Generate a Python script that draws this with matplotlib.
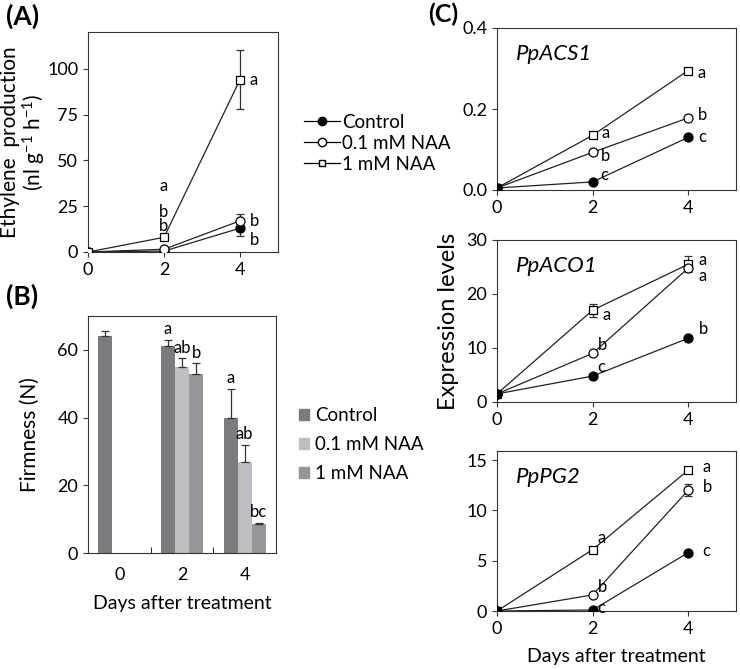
import matplotlib
matplotlib.use("Agg")
import matplotlib.pyplot as plt
from matplotlib.patches import Patch
from matplotlib.lines import Line2D

plt.rcParams['font.family'] = ['Lato', 'DejaVu Sans']
plt.rcParams['font.size'] = 12
plt.rcParams['axes.linewidth'] = 0.8
plt.rcParams['mathtext.default'] = 'regular'

days = [0, 2, 4]
treatments = ['Control', '0.1 mM NAA', '1 mM NAA']

# (A) ethylene production
eth_ctrl = [0, 0.5, 13]
eth_ctrl_err = [0, 0.3, 4]
eth_01 = [0, 1.5, 17]
eth_01_err = [0, 0.5, 4]
eth_1 = [0, 8, 94]
eth_1_err = [0, 1, 16]

# (B) firmness
firm_days = ['0', '2', '4']
firm_ctrl = [64, 61, 40]
firm_ctrl_err = [1.5, 2, 8.5]
firm_01 = [None, 55, 27]
firm_01_err = [None, 2.5, 5]
firm_1 = [None, 53, 8.5]
firm_1_err = [None, 3, 0.5]
firm_letters = [['', 'a', 'a'], ['', 'ab', 'ab'], ['', 'b', 'bc']]

# (C) expression levels
genes = ['PpACS1', 'PpACO1', 'PpPG2']
acs_ctrl = [0.005, 0.02, 0.13]
acs_01 = [0.005, 0.093, 0.178]
acs_1 = [0.005, 0.135, 0.295]
aco_ctrl = [1.5, 4.8, 11.8]
aco_01 = [1.5, 9.0, 24.8]
aco_1 = [1.5, 17.0, 25.5]
aco_1_err = [0.3, 1.2, 1.5]
pg_ctrl = [0.0, 0.1, 5.8]
pg_01 = [0.0, 1.6, 12.0]
pg_01_err = [0, 0.2, 0.6]
pg_1 = [0.0, 6.1, 14.0]

bar_colors = ['#7a7b7f', '#bdbec1', '#95969a']

W, H = 740, 669
fig = plt.figure(figsize=(W / 100, H / 100), dpi=100)


def box(x0, y0, x1, y1):
    return fig.add_axes([x0 / W, 1 - y1 / H, (x1 - x0) / W, (y1 - y0) / H])


def style_line(ax, x, y, marker, face, err=None):
    if err is not None:
        ax.errorbar(x, y, yerr=err, fmt='none', ecolor='#333333', elinewidth=0.9,
                    capsize=3, capthick=0.9, zorder=2)
    ax.plot(x, y, color='#222222', lw=0.9, marker=marker, ms=6.5 if marker == 'o' else 6,
            mfc=face, mec='black', mew=0.9, zorder=3)


# ---- (A)
axA = box(88, 32, 278, 252)
style_line(axA, days, eth_ctrl, 'o', 'black', eth_ctrl_err)
style_line(axA, days, eth_01, 'o', 'white', eth_01_err)
style_line(axA, days, eth_1, 's', 'white', eth_1_err)
axA.set_xlim(0, 5)
axA.set_ylim(0, 120)
axA.set_xticks(days)
axA.set_yticks([0, 25, 50, 75, 100])
axA.set_ylabel('Ethylene  production\n(nl g$^{-1}$ h$^{-1}$)', fontsize=15, linespacing=1.05)
axA.yaxis.set_label_coords(-40 / 190, 0.5)
axA.text(2, 36, 'a', ha='center', va='center', fontsize=12)
axA.text(2, 22, 'b', ha='center', va='center', fontsize=12)
axA.text(2, 14, 'b', ha='center', va='center', fontsize=12)
axA.text(4.37, 94, 'a', ha='center', va='center', fontsize=12)
axA.text(4.37, 17, 'b', ha='center', va='center', fontsize=12)
axA.text(4.37, 6.5, 'b', ha='center', va='center', fontsize=12)
fig.text(6 / W, 1 - 16 / H, '(A)', fontsize=19, fontweight='bold', va='center')

hA = [Line2D([], [], color='black', lw=0.9, marker='o', mfc='black', mec='black', ms=6),
      Line2D([], [], color='black', lw=0.9, marker='o', mfc='white', mec='black', ms=6),
      Line2D([], [], color='black', lw=0.9, marker='s', mfc='white', mec='black', ms=5)]
fig.legend(hA, treatments, loc='upper left', bbox_to_anchor=(304 / W, 1 - 114 / H),
           frameon=False, fontsize=13.5, handlelength=1.9, handletextpad=0.15,
           labelspacing=0.2, borderpad=0, borderaxespad=0)

# ---- (B)
axB = box(88, 316, 276, 553)
bw = 0.225
pos = [0, 1, 2]
series = [(firm_ctrl, firm_ctrl_err), (firm_01, firm_01_err), (firm_1, firm_1_err)]
for k, (vals, errs) in enumerate(series):
    for i, (v, e) in enumerate(zip(vals, errs)):
        if v is None:
            continue
        xb = pos[i] + (k - 1) * bw
        axB.bar(xb, v, width=bw, color=bar_colors[k], edgecolor='none', zorder=2)
        axB.errorbar(xb, v, yerr=[[0], [e]], fmt='none', ecolor='#333333',
                     elinewidth=0.9, capsize=3, capthick=0.9, zorder=3)
        if firm_letters[k][i]:
            axB.text(xb, v + e + 0.8, firm_letters[k][i], ha='center', va='bottom', fontsize=12)
axB.set_xlim(-0.5, 2.5)
axB.set_ylim(0, 70)
axB.set_xticks(pos)
axB.set_xticklabels(firm_days)
axB.set_xticks([0.5, 1.5], minor=True)
axB.tick_params(axis='x', which='major', length=0, pad=10)
axB.tick_params(axis='x', which='minor', direction='in', length=4)
axB.set_yticks([0, 20, 40, 60])
axB.set_ylabel('Firmness (N)', fontsize=15)
axB.yaxis.set_label_coords(-48 / 188, 0.5)
axB.set_xlabel('Days after treatment', fontsize=14, labelpad=9)
fig.text(6 / W, 1 - 296 / H, '(B)', fontsize=19, fontweight='bold', va='center')

hB = [Patch(color=c) for c in bar_colors]
fig.legend(hB, treatments, loc='upper left', bbox_to_anchor=(299 / W, 1 - 407 / H),
           frameon=False, fontsize=13.5, handlelength=0.55, handleheight=0.55,
           handletextpad=0.3, labelspacing=0.65, borderpad=0, borderaxespad=0)

# ---- (C)
axC1 = box(497, 28, 736, 190)
style_line(axC1, days, acs_1, 's', 'white')
style_line(axC1, days, acs_01, 'o', 'white')
style_line(axC1, days, acs_ctrl, 'o', 'black')
axC1.set_ylim(0, 0.4)
axC1.set_yticks([0.0, 0.2, 0.4])
axC1.set_yticklabels(['0.0', '0.2', '0.4'])
axC1.text(2.18, 0.14, 'a', va='center', fontsize=12)
axC1.text(2.18, 0.085, 'b', va='center', fontsize=12)
axC1.text(2.15, 0.036, 'c', va='center', fontsize=12)
axC1.text(4.2, 0.29, 'a', va='center', fontsize=12)
axC1.text(4.2, 0.185, 'b', va='center', fontsize=12)
axC1.text(4.2, 0.13, 'c', va='center', fontsize=12)

axC2 = box(497, 240, 736, 402)
style_line(axC2, days, aco_1, 's', 'white', aco_1_err)
style_line(axC2, days, aco_01, 'o', 'white')
style_line(axC2, days, aco_ctrl, 'o', 'black')
axC2.set_ylim(0, 30)
axC2.set_yticks([0, 10, 20, 30])
axC2.text(2.2, 16.2, 'a', va='center', fontsize=12)
axC2.text(2.1, 10.5, 'b', va='center', fontsize=12)
axC2.text(2.1, 6.5, 'c', va='center', fontsize=12)
axC2.text(4.22, 26.3, 'a', va='center', fontsize=12)
axC2.text(4.22, 23.4, 'a', va='center', fontsize=12)
axC2.text(4.22, 13.6, 'b', va='center', fontsize=12)
axC2.set_ylabel('Expression levels', fontsize=17)
axC2.yaxis.set_label_coords(-38 / 239, 0.5)

axC3 = box(497, 451, 736, 611)
style_line(axC3, days, pg_1, 's', 'white')
style_line(axC3, days, pg_01, 'o', 'white', pg_01_err)
style_line(axC3, days, pg_ctrl, 'o', 'black')
axC3.set_ylim(0, 15.9)
axC3.set_yticks([0, 5, 10, 15])
axC3.text(2.1, 7.3, 'a', va='center', fontsize=12)
axC3.text(2.1, 2.4, 'b', va='center', fontsize=12)
axC3.text(2.1, 0.25, 'c', va='center', fontsize=12)
axC3.text(4.3, 14.3, 'a', va='center', fontsize=12)
axC3.text(4.3, 12.3, 'b', va='center', fontsize=12)
axC3.text(4.3, 6.0, 'c', va='center', fontsize=12)
axC3.set_xlabel('Days after treatment', fontsize=14, labelpad=8)
fig.text(428 / W, 1 - 14 / H, '(C)', fontsize=18, fontweight='bold', va='center')

for ax, g in zip([axC1, axC2, axC3], genes):
    ax.set_xlim(0, 5)
    ax.set_xticks(days)
    ax.text(0.08, 0.84, g, transform=ax.transAxes, fontsize=16, style='italic', va='center')

for ax in [axA, axB, axC1, axC2, axC3]:
    ax.tick_params(which='major', labelsize=13, width=0.8, color='#333333')
    for s in ax.spines.values():
        s.set_color('#333333')

fig.savefig('out.png', dpi=100)
